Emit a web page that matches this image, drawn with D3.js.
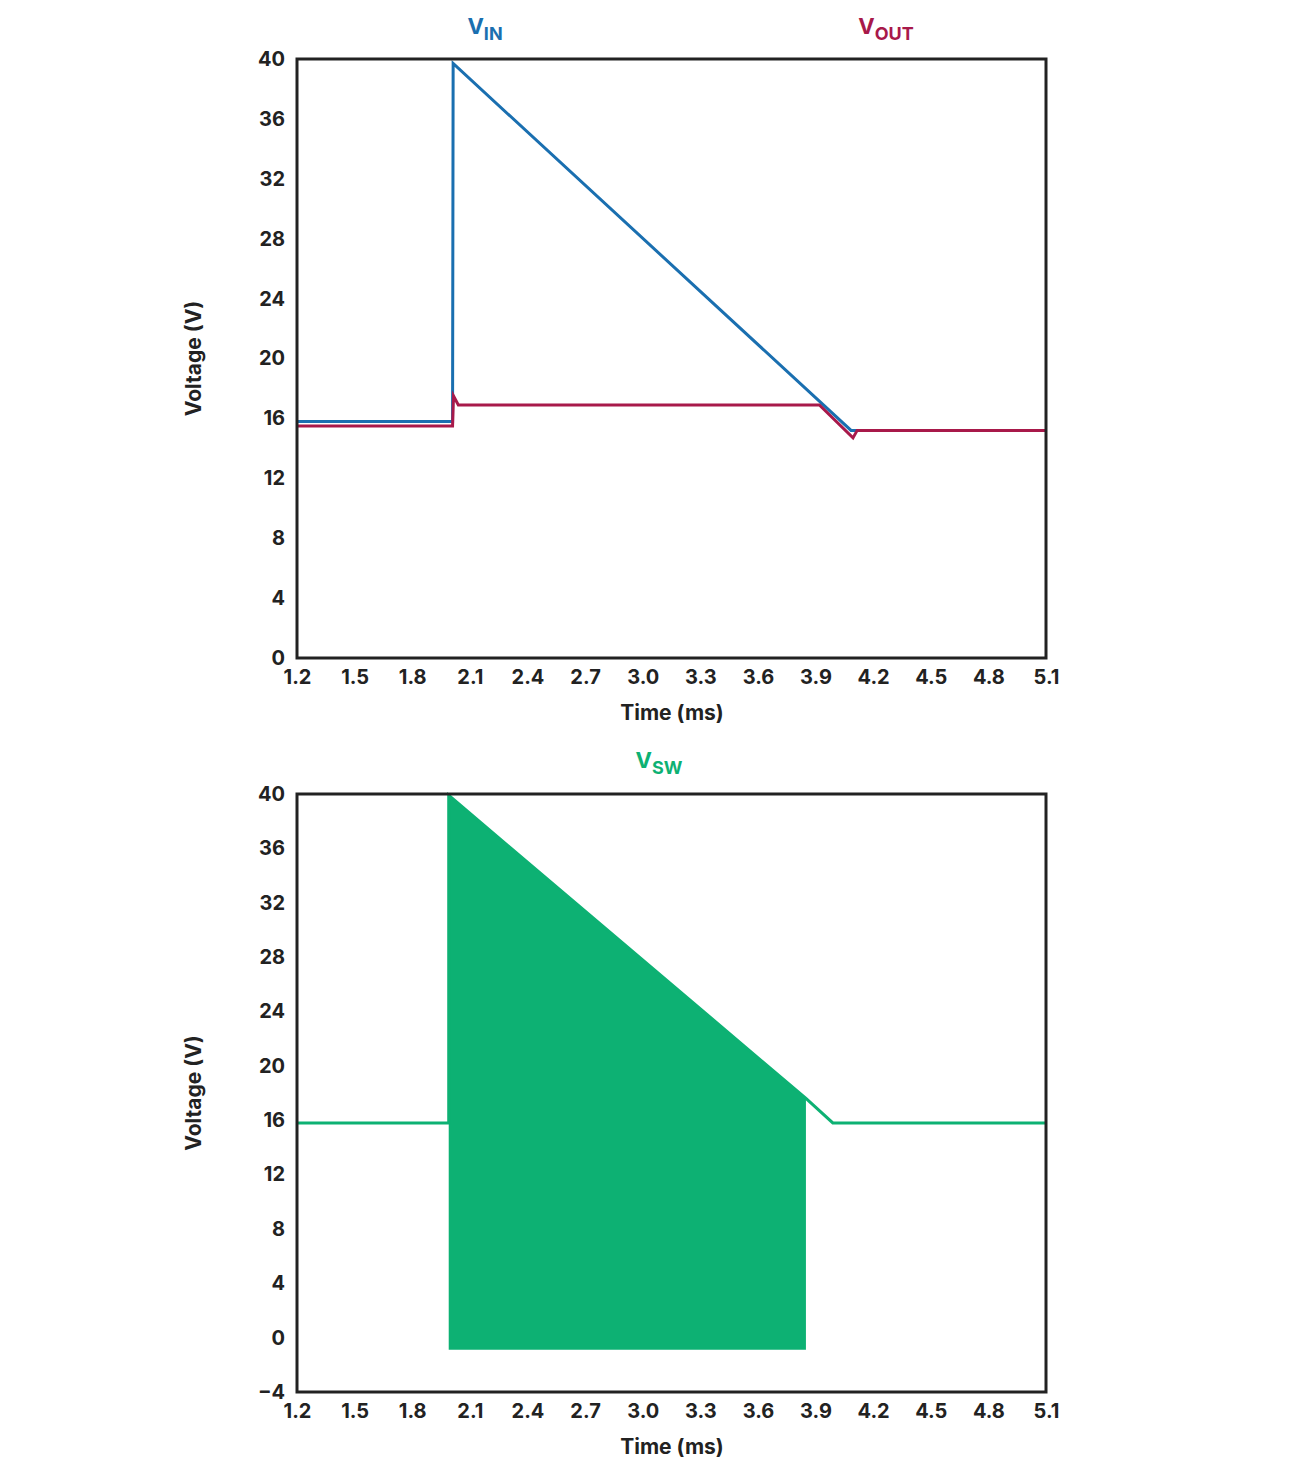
<!DOCTYPE html><html><head><meta charset="utf-8"><script src="https://cdn.jsdelivr.net/npm/d3@7"></script>
<style>body{margin:0;background:#fff}text{font-family:Inter,"Noto Sans",sans-serif;font-weight:700;fill:#222}</style></head><body><svg width="1291" height="1470"></svg><script>
const xTicks=[1.2,1.5,1.8,2.1,2.4,2.7,3.0,3.3,3.6,3.9,4.2,4.5,4.8,5.1];
const yTicksTop=[0,4,8,12,16,20,24,28,32,36,40];
const yTicksBot=[-4,0,4,8,12,16,20,24,28,32,36,40];
const vinT=[1.2,2.01,2.013,4.085,5.1], vinV=[15.8,15.8,39.7,15.2,15.2];
const voutT=[1.2,2.01,2.015,2.04,3.92,4.095,4.117,5.1], voutV=[15.5,15.5,17.5,16.9,16.9,14.7,15.2,15.2];
const swT=[1.2,1.99,1.99,3.85,3.99,5.1], swV=[15.8,15.8,39.9,17.6,15.8,15.8];
const swFillT=[1.99,1.99,3.85,3.85], swFillV=[-0.9,39.9,17.6,-0.9];
const svg=d3.select("svg");
function panel(top,bottom,ymin,yTicks,title){
 const x=d3.scaleLinear().domain([1.2,5.1]).range([297,1046]);
 const y=d3.scaleLinear().domain([ymin,40]).range([bottom,top]);
 const g=svg.append("g");
 g.append("g").attr("transform",`translate(0,${bottom})`).call(d3.axisBottom(x).tickValues(xTicks).tickFormat(d3.format(".1f")).tickSize(0).tickPadding(12))
  .call(a=>{a.select(".domain").remove();a.selectAll("text").attr("font-size",20).style("font-family","Inter,sans-serif").style("font-weight",700).attr("fill","#222");});
 g.append("g").attr("transform",`translate(297,0)`).call(d3.axisLeft(y).tickValues(yTicks).tickFormat(d=>d<0?"\u2212"+(-d):d).tickSize(0).tickPadding(12))
  .call(a=>{a.select(".domain").remove();a.selectAll("text").attr("font-size",20).style("font-family","Inter,sans-serif").style("font-weight",700).attr("fill","#222");});
 g.append("text").attr("x",672).attr("y",bottom+62).attr("text-anchor","middle").attr("font-size",21).text("Time (ms)");
 g.append("text").attr("transform",`translate(201,${(top+bottom)/2}) rotate(-90)`).attr("text-anchor","middle").attr("font-size",21).text("Voltage (V)");
 return {x,y,g,frame:()=>g.append("rect").attr("x",297).attr("y",top).attr("width",749).attr("height",bottom-top).attr("fill","none").attr("stroke","#222").attr("stroke-width",3)};
}
function lbl(x,y,main,sub,color){const t=svg.append("text").attr("x",x).attr("y",y).attr("font-size",22).attr("text-anchor","middle").style("fill",color);
 t.append("tspan").text(main);t.append("tspan").attr("dy",6).attr("font-size",18).text(sub);}
const p1=panel(59,658,0,yTicksTop);
const line=(p,T,V)=>d3.line().x((d,i)=>p.x(T[i])).y((d,i)=>p.y(V[i]))(T);
p1.g.append("path").attr("d",line(p1,vinT,vinV)).attr("fill","none").attr("stroke","#1a6fb0").attr("stroke-width",3);
p1.g.append("path").attr("d",line(p1,voutT,voutV)).attr("fill","none").attr("stroke","#a8194a").attr("stroke-width",3);
p1.frame();
lbl(485,34,"V","IN","#1a6fb0");lbl(886,34,"V","OUT","#a8194a");
const p2=panel(794,1392,-4,yTicksBot);
p2.g.append("path").attr("d",line(p2,swFillT,swFillV)+"Z").attr("fill","#0db173");
p2.g.append("path").attr("d",line(p2,swT,swV)).attr("fill","none").attr("stroke","#0db173").attr("stroke-width",3);
p2.frame();
lbl(659,768,"V","SW","#0db173");
</script></body></html>
